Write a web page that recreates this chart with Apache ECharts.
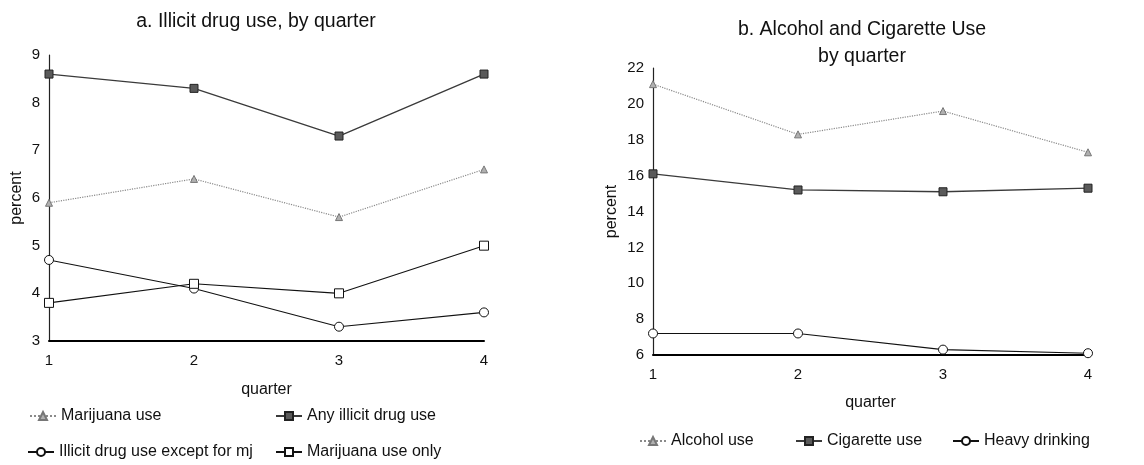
<!DOCTYPE html>
<html>
<head>
<meta charset="utf-8">
<script src="https://cdn.jsdelivr.net/npm/echarts@6/dist/echarts.min.js"></script>
<style>
  html, body { margin: 0; padding: 0; background: #fff; }
  #chart { width: 1144px; height: 465px; }
</style>
</head>
<body>
<div id="chart"></div>
<script>
// Quarter categories shared by both panels
const quarters = ['1', '2', '3', '4'];

// Panel a: illicit drug use (percent)
const marijuanaUse = [5.9, 6.4, 5.6, 6.6];
const anyIllicitUse = [8.6, 8.3, 7.3, 8.6];
const illicitExceptMj = [4.7, 4.1, 3.3, 3.6];
const marijuanaOnly = [3.8, 4.2, 4.0, 5.0];

// Panel b: alcohol and cigarette use (percent)
const alcoholUse = [21.1, 18.3, 19.6, 17.3];
const cigaretteUse = [16.1, 15.2, 15.1, 15.3];
const heavyDrinking = [7.2, 7.2, 6.3, 6.1];

// Tick ranges
const leftTicks = { min: 3, max: 9, interval: 1 };
const rightTicks = { min: 6, max: 22, interval: 2 };

const FONT = 'Liberation Sans, Arial, Helvetica, sans-serif';

const styles = {
  dotted: { color: '#8a8a8a', lineType: 'dotted', width: 1.2, symbol: 'triangle', size: 7, fill: '#b0b0b0', border: '#777' },
  dark:   { color: '#3a3a3a', lineType: 'solid', width: 1.3, symbol: 'rect', size: 8, fill: '#5a5a5a', border: '#222' },
  circle: { color: '#111', lineType: 'solid', width: 1.1, symbol: 'circle', size: 9, fill: '#fff', border: '#111' },
  square: { color: '#111', lineType: 'solid', width: 1.1, symbol: 'rect', size: 9, fill: '#fff', border: '#111' }
};

function makeSeries(name, data, st, idx) {
  return {
    name: name,
    type: 'line',
    data: data,
    xAxisIndex: idx,
    yAxisIndex: idx,
    symbol: st.symbol,
    symbolSize: st.size,
    showAllSymbol: true,
    lineStyle: { color: st.color, type: st.lineType, width: st.width },
    itemStyle: { color: st.fill, borderColor: st.border, borderWidth: 1 },
    emphasis: { disabled: true },
    animation: false,
    z: 3
  };
}

function legendAt(name, left, top) {
  return {
    data: [name],
    left: left,
    top: top,
    itemWidth: 26,
    itemHeight: 10,
    itemGap: 6,
    selectedMode: false,
    textStyle: { fontFamily: FONT, fontSize: 16, color: '#111', padding: [0, 0, 0, 0] },
    padding: 0
  };
}

function yAxisCfg(idx, ticks, gap) {
  return {
    type: 'value',
    gridIndex: idx,
    min: ticks.min,
    max: ticks.max,
    interval: ticks.interval,
    name: 'percent',
    nameLocation: 'middle',
    nameGap: gap,
    nameTextStyle: { fontFamily: FONT, fontSize: 16, color: '#111' },
    axisLine: { show: true, lineStyle: { color: '#222', width: 1.2 } },
    axisTick: { show: false },
    splitLine: { show: false },
    axisLabel: { fontFamily: FONT, fontSize: 15, color: '#111', margin: 9 }
  };
}

function xAxisCfg(idx, gap) {
  return {
    type: 'category',
    gridIndex: idx,
    data: quarters,
    boundaryGap: false,
    name: 'quarter',
    nameLocation: 'middle',
    nameGap: gap,
    nameTextStyle: { fontFamily: FONT, fontSize: 16, color: '#111' },
    axisLine: { show: true, onZero: false, lineStyle: { color: '#000', width: 2 } },
    axisTick: { show: false },
    splitLine: { show: false },
    axisLabel: { fontFamily: FONT, fontSize: 15, color: '#111', margin: 12 }
  };
}

const chart = echarts.init(document.getElementById('chart'), null, { renderer: 'canvas' });

chart.setOption({
  backgroundColor: '#fff',
  animation: false,
  title: [
    {
      text: 'a. Illicit drug use, by quarter',
      left: 251, top: 7, textAlign: 'center',
      textStyle: { fontFamily: FONT, fontSize: 19.5, fontWeight: 'normal', color: '#111' }
    },
    {
      text: 'b. Alcohol and Cigarette Use\nby quarter',
      left: 857, top: 11, textAlign: 'center',
      textStyle: { fontFamily: FONT, fontSize: 19.5, fontWeight: 'normal', color: '#111', lineHeight: 27 }
    }
  ],
  grid: [
    { left: 49, right: 660, top: 55, bottom: 124 },
    { left: 653, right: 56, top: 68, bottom: 110 }
  ],
  xAxis: [xAxisCfg(0, 41), xAxisCfg(1, 40)],
  yAxis: [yAxisCfg(0, leftTicks, 24), yAxisCfg(1, rightTicks, 33)],
  legend: [
    legendAt('Marijuana use', 29, 408),
    legendAt('Any illicit drug use', 275, 408),
    legendAt('Illicit drug use except for mj', 27, 444),
    legendAt('Marijuana use only', 275, 444),
    legendAt('Alcohol use', 639, 433),
    legendAt('Cigarette use', 795, 433),
    legendAt('Heavy drinking', 952, 433)
  ],
  series: [
    makeSeries('Marijuana use', marijuanaUse, styles.dotted, 0),
    makeSeries('Any illicit drug use', anyIllicitUse, styles.dark, 0),
    makeSeries('Illicit drug use except for mj', illicitExceptMj, styles.circle, 0),
    makeSeries('Marijuana use only', marijuanaOnly, styles.square, 0),
    makeSeries('Alcohol use', alcoholUse, styles.dotted, 1),
    makeSeries('Cigarette use', cigaretteUse, styles.dark, 1),
    makeSeries('Heavy drinking', heavyDrinking, styles.circle, 1)
  ]
});
</script>
</body>
</html>
